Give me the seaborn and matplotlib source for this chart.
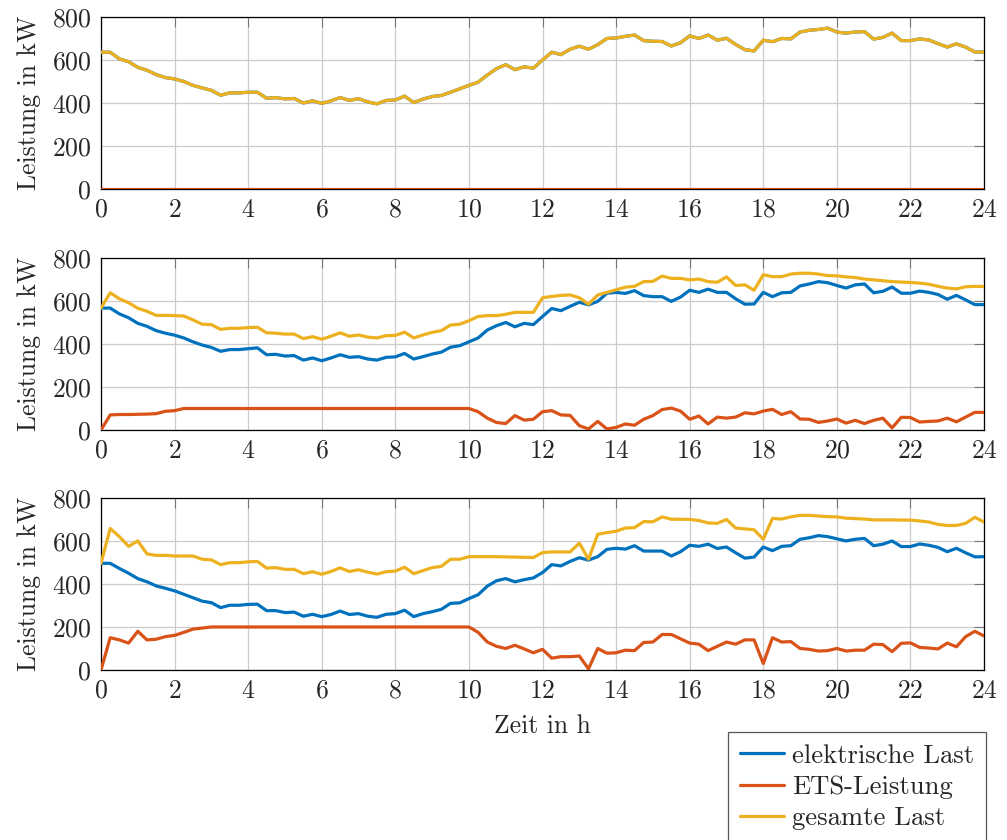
import numpy as np
import pandas as pd
import matplotlib
matplotlib.use("Agg")
import matplotlib.pyplot as plt
from matplotlib.lines import Line2D
import seaborn as sns

# Zeitachse in Viertelstunden
zeit = np.arange(0, 24.01, 0.25)

# Szenario 1: ohne ETS (gesamte Last = elektrische Last)
gesamt_1 = [636, 636, 605, 592, 566, 552, 532, 518,
            512, 500, 482, 470, 459, 436, 447, 447,
            450, 450, 422, 425, 419, 421, 400, 410,
            398, 410, 425, 412, 420, 405, 396, 412,
            414, 432, 402, 418, 430, 435, 450, 466,
            482, 497, 530, 560, 578, 555, 568, 562,
            600, 636, 625, 650, 664, 650, 671, 700,
            702, 710, 716, 690, 687, 686, 665, 680,
            712, 700, 716, 692, 701, 672, 648, 642,
            692, 685, 700, 698, 730, 738, 742, 748,
            730, 725, 730, 732, 697, 705, 725, 690,
            690, 698, 693, 676, 660, 675, 660, 637,
            637]
elektrisch_1 = gesamt_1
ets_1 = [0] * len(zeit)

# Szenario 2
elektrisch_2 = [567, 567, 540, 522, 496, 482, 462, 450,
                441, 428, 410, 395, 384, 366, 374, 374,
                378, 382, 350, 352, 344, 346, 325, 335,
                322, 335, 350, 338, 341, 330, 325, 338,
                340, 356, 330, 341, 353, 362, 385, 392,
                410, 428, 465, 485, 500, 480, 496, 490,
                528, 565, 555, 575, 594, 582, 598, 636,
                640, 635, 648, 625, 620, 620, 598, 618,
                650, 640, 655, 640, 640, 610, 585, 586,
                640, 620, 638, 640, 670, 679, 690, 685,
                672, 660, 675, 679, 638, 645, 665, 636,
                636, 646, 640, 630, 608, 626, 605, 583,
                583]
ets_2 = [0, 70, 72, 72, 73, 74, 76, 87,
         90, 100, 100, 100, 100, 100, 100, 100,
         100, 100, 100, 100, 100, 100, 100, 100,
         100, 100, 100, 100, 100, 100, 100, 100,
         100, 100, 100, 100, 100, 100, 100, 100,
         100, 85, 55, 35, 30, 67, 46, 50,
         85, 90, 70, 68, 20, 5, 40, 5,
         12, 28, 22, 50, 67, 95, 102, 88,
         50, 65, 28, 60, 55, 60, 80, 75,
         88, 96, 72, 85, 51, 50, 35, 42,
         51, 32, 45, 30, 45, 55, 10, 59,
         58, 37, 40, 42, 55, 38, 60, 82,
         82]
gesamt_2 = [567, 638, 610, 592, 566, 552, 533, 533,
            532, 530, 512, 492, 490, 468, 473, 473,
            476, 478, 452, 450, 446, 446, 425, 434,
            422, 436, 452, 436, 442, 432, 428, 439,
            440, 455, 428, 442, 454, 462, 488, 492,
            508, 528, 532, 532, 538, 547, 547, 547,
            615, 621, 626, 628, 615, 585, 628, 640,
            652, 664, 668, 690, 691, 716, 705, 705,
            698, 702, 690, 687, 712, 672, 675, 650,
            722, 713, 713, 725, 729, 729, 725, 718,
            717, 712, 709, 702, 698, 694, 690, 688,
            686, 683, 678, 668, 660, 656, 666, 668,
            667]

# Szenario 3
elektrisch_3 = [496, 496, 472, 450, 425, 410, 391, 380,
                368, 352, 336, 320, 313, 290, 301, 301,
                305, 306, 276, 276, 267, 269, 250, 259,
                248, 258, 274, 258, 262, 250, 245, 259,
                262, 278, 248, 262, 271, 282, 310, 312,
                332, 350, 390, 415, 425, 410, 420, 428,
                453, 490, 484, 505, 522, 511, 527, 561,
                566, 562, 578, 553, 553, 553, 530, 550,
                580, 575, 585, 565, 572, 545, 520, 525,
                572, 555, 575, 578, 608, 615, 625, 620,
                610, 600, 608, 612, 578, 585, 600, 574,
                574, 586, 580, 570, 550, 566, 545, 526,
                527]
ets_3 = [0, 150, 140, 125, 180, 140, 143, 155,
         161, 175, 190, 195, 200, 200, 200, 200,
         200, 200, 200, 200, 200, 200, 200, 200,
         200, 200, 200, 200, 200, 200, 200, 200,
         200, 200, 200, 200, 200, 200, 200, 200,
         200, 175, 130, 110, 100, 115, 98, 80,
         96, 55, 62, 62, 65, 5, 100, 78,
         80, 92, 90, 128, 130, 165, 165, 145,
         125, 120, 90, 110, 130, 120, 140, 140,
         30, 150, 130, 132, 100, 96, 88, 90,
         100, 88, 92, 92, 120, 118, 85, 124,
         126, 105, 102, 98, 125, 108, 155, 180,
         158]
gesamt_3 = [496, 658, 620, 575, 600, 540, 533, 533,
            530, 530, 530, 515, 512, 490, 499, 499,
            503, 505, 474, 476, 468, 468, 448, 457,
            445, 458, 475, 458, 466, 455, 446, 457,
            460, 478, 448, 462, 476, 482, 515, 515,
            527, 527, 527, 527, 526, 525, 524, 523,
            546, 549, 549, 549, 590, 515, 631, 639,
            645, 660, 662, 690, 689, 712, 701, 701,
            700, 695, 684, 682, 700, 660, 656, 652,
            608, 705, 702, 712, 719, 719, 716, 713,
            712, 706, 704, 702, 698, 698, 698, 697,
            697, 693, 688, 677, 672, 672, 682, 710,
            688]

serien = ["elektrische Last", "ETS-Leistung", "gesamte Last"]
farben = ["#0072BD", "#D95319", "#EDB120"]
szenarien = [(elektrisch_1, ets_1, gesamt_1),
             (elektrisch_2, ets_2, gesamt_2),
             (elektrisch_3, ets_3, gesamt_3)]

sns.set_style("white")
plt.rcParams["font.family"] = ["cmr10", "DejaVu Serif"]
plt.rcParams["axes.formatter.use_mathtext"] = True
plt.rcParams["font.size"] = 18.5

fig = plt.figure(figsize=(10.07, 8.4), dpi=100)
positionen = [0.775, 0.4881, 0.2024]

for i, (el, ets, ges) in enumerate(szenarien):
    ax = fig.add_axes([0.1003, positionen[i], 0.8769, 0.2048])
    for werte, name in zip((el, ets, ges), serien):
        assert len(werte) == len(zeit), name
    df = pd.DataFrame({"Zeit": np.tile(zeit, 3),
                       "Leistung": np.concatenate([el, ets, ges]),
                       "Serie": np.repeat(serien, len(zeit))})
    sns.lineplot(data=df, x="Zeit", y="Leistung", hue="Serie", hue_order=serien,
                 palette=farben, linewidth=2.3, estimator=None, legend=False,
                 ax=ax, zorder=3)
    ax.set_xlim(0, 24)
    ax.set_ylim(0, 800)
    ax.set_xticks(range(0, 25, 2))
    ax.set_yticks(range(0, 801, 200))
    ax.grid(True, color="#cccccc", linewidth=0.9)
    ax.set_axisbelow(True)
    ax.tick_params(direction="in", length=7.5, width=0.8, color="#777777",
                   top=True, right=True, labelsize=18.5)
    ax.tick_params(axis="x", pad=6.5)
    ax.tick_params(axis="y", pad=7)
    for sp in ax.spines.values():
        sp.set_color("black")
        sp.set_linewidth(0.9)
    ax.set_ylabel("Leistung in kW", fontsize=18.5, labelpad=8)
    if i == 2:
        ax.set_xlabel("Zeit in h", fontsize=18.5, labelpad=8)
    else:
        ax.set_xlabel("")

handles = [Line2D([0], [0], color=c, linewidth=2.3) for c in farben]
leg = fig.legend(handles, serien, loc="upper right", bbox_to_anchor=(0.979, 0.1286),
                 borderaxespad=0, fontsize=19.2, frameon=True, fancybox=False,
                 framealpha=1, edgecolor="#555555", handlelength=1.65,
                 handletextpad=0.3, labelspacing=0.28, borderpad=0.45)
leg.get_frame().set_linewidth(0.9)

fig.savefig("out.png", dpi=100)
